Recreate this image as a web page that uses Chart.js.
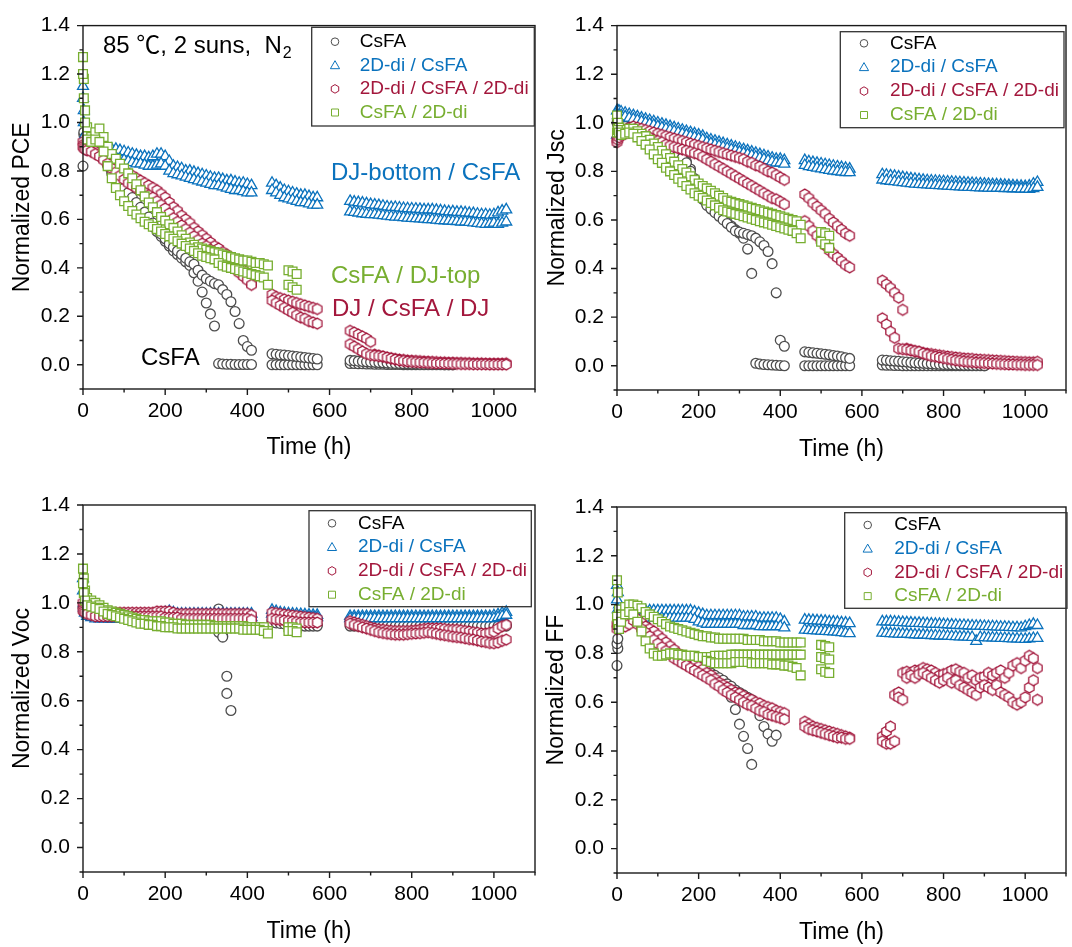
<!DOCTYPE html>
<html>
<head>
<meta charset="utf-8">
<script src="https://cdn.jsdelivr.net/npm/chart.js@4.4.1/dist/chart.umd.min.js"></script>
<style>
  html, body { margin: 0; padding: 0; background: #fff; overflow: hidden; }
  body { width: 1072px; height: 947px; position: relative; }
  canvas { position: absolute; }
</style>
</head>
<body>
<canvas id="pce"></canvas>
<canvas id="jsc"></canvas>
<canvas id="voc"></canvas>
<canvas id="ff"></canvas>
<script>
const _ = null;

// measurement times (h) of the three ageing runs
const T1 = [0, 2, 5, 10, 20, 30, 40, 50, 60, 70, 80, 90, 100, 110, 120, 130, 140, 150, 160, 170,
  180, 190, 200, 210, 220, 230, 240, 250, 260, 270, 280, 290, 300, 310, 320, 330, 340, 350, 360, 370,
  380, 390, 400, 410, 420, 430, 440, 450];
const T2 = [460, 470, 480, 490, 500, 510, 520, 530, 540, 550, 560, 570];
const T3 = [650, 660, 670, 680, 690, 700, 710, 720, 730, 740, 750, 760, 770, 780, 790, 800, 810, 820, 830, 840,
  850, 860, 870, 880, 890, 900, 910, 920, 930, 940, 950, 960, 970, 980, 990, 1000, 1010, 1020, 1030];

const SERIES_LABELS = ['CsFA', '2D-di / CsFA', '2D-di / CsFA / 2D-di', 'CsFA / 2D-di'];
const X_LABELS = ['0', '200', '400', '600', '800', '1000'];
const Y_LABELS = ['0.0', '0.2', '0.4', '0.6', '0.8', '1.0', '1.2', '1.4'];

// ---- normalized PCE (two devices per stack, each [run1, run2, run3]) ----
const PCE_GRAY_A = [
  [.82, .95, .93, .92, .91, .90, .88, .85, .82, .79,
   .76, .74, .72, .70, .68, .66, .64, .62, .60, .57,
   .55, .53, .51, .49, .47, .455, .44, .425, .41, .38,
   .345, .30, .255, .21, .16, .005, .003, .002, .002, .001,
   .001, .001, .001, .001],
  [0, 0, 0, 0, 0, 0, 0, 0, 0, 0, 0, 0],
  [.005, .005, .004, .004, .003, .003, .002, .002, .002, .001,
   .001, .001, .001, 0, 0, 0, 0, 0, 0, 0,
   0, 0, 0, 0, 0, 0]
];
const PCE_GRAY_B = [
  [_, .96, .94, .93, .92, .91, .89, .86, .83, .80,
   .775, .75, .73, .71, .69, .67, .65, .63, .61, .585,
   .56, .54, .52, .50, .485, .47, .455, .44, .425, .415,
   .39, .37, .355, .345, .335, .33, .31, .29, .26, .22,
   .17, .10, .075, .06],
  [.045, .043, .041, .04, .038, .036, .034, .032, .03, .028, .026, .024],
  [.018, .017, .015, .014, .012, .011, .01, .009, .008, .007,
   .006, .005, .005, .004, .004, .003, .003, .002, .002, .002,
   .001, .001, .001, 0, 0, 0]
];
const PCE_BLUE_A = [
  [1.15, 1.05, .95, .91, .90, .90, .90, .90, .895, .89,
   .89, .885, .88, .875, .87, .865, .86, .86, .855, .86,
   .87, .87, .86, .84, .82, .815, .81, .80, .80, .795,
   .79, .785, .78, .775, .77, .77, .765, .76, .76, .755,
   .75, .75, .745, .74],
  [.75, .74, .73, .72, .715, .71, .705, .70, .70, .695, .69, .69],
  [.675, .672, .67, .668, .665, .662, .66, .658, .655, .652,
   .65, .65, .648, .646, .645, .644, .643, .642, .64, .64,
   .64, .638, .636, .634, .632, .632, .63, .63, .628, .626,
   .625, .622, .62, .62, .618, .62, .628, .635, .64]
];
const PCE_BLUE_B = [
  [1.10, 1.0, .92, .89, .88, .88, .875, .87, .865, .86,
   .855, .85, .845, .84, .835, .83, .83, .825, .82, .82,
   .825, .83, .82, .80, .79, .785, .78, .775, .77, .765,
   .76, .755, .75, .745, .74, .74, .735, .73, .725, .72,
   .72, .715, .71, .71],
  [.72, .71, .70, .69, .685, .68, .675, .67, .67, .665, .66, .66],
  [.632, .63, .627, .624, .622, .62, .62, .618, .616, .614,
   .612, .61, .61, .608, .606, .605, .604, .603, .602, .60,
   .60, .598, .596, .595, .594, .593, .592, .59, .59, .588,
   .586, .584, .582, .58, .582, .585, .58, .585, .59]
];
const PCE_RED_A = [
  [.92, .91, .90, .90, .89, .88, .87, .86, .845, .83,
   .815, .805, .80, .79, .78, .77, .76, .75, .74, .73,
   .72, .705, .69, .67, .65, .635, .615, .60, .585, .565,
   .55, .535, .52, .505, .49, .48, .465, .455, .44, .425,
   .41, .39, .37, .335],
  [.29, .28, .275, .27, .265, .26, .255, .25, .245, .24, .235, .23],
  [.14, .133, .125, .117, .108, .095, .042, .038, .034, .03,
   .027, .024, .022, .02, .018, .017, .016, .015, .014, .013,
   .012, .011, .01, .01, .009, .009, .008, .008, .007, .007,
   .006, .006, .006, .005, .005, .005, .005, .005, .006]
];
const PCE_RED_B = [
  [.90, .895, .89, .885, .88, .87, .86, .845, .83, .81,
   .795, .78, .765, .75, .74, .73, .72, .71, .70, .69,
   .675, .66, .645, .625, .605, .59, .575, .56, .545, .53,
   .515, .50, .49, .475, .46, .45, .435, .42, .41, .395,
   .38, .365, .35, .33],
  [.265, .255, .245, .235, .225, .215, .205, .195, .19, .18, .175, .17],
  [.085, .075, .065, .055, .045, .04, .038, .036, .034, .03,
   .026, .022, .018, .016, .014, .012, .011, .01, .009, .008,
   .007, .006, .006, .005, .005, .004, .004, .003, .003, .003,
   .002, .002, .002, .002, .001, .001, .001, .001, .001]
];
const PCE_GREEN_A = [
  [1.27, 1.18, 1.05, .98, .94, .96, .975, .94, .90, .87,
   .85, .83, .81, .79, .77, .745, .72, .695, .67, .65,
   .63, .61, .595, .58, .565, .55, .535, .52, .505, .495,
   .485, .48, .475, .47, .465, .46, .455, .45, .445, .44,
   .435, .43, .43, .425, .42, .42, .415, .41],
  [_, _, _, _, .39, .385, .375],
  []
];
const PCE_GREEN_B = [
  [1.20, 1.10, 1.0, .93, .92, .93, .92, .88, .82, .77,
   .73, .70, .675, .655, .635, .62, .605, .59, .58, .57,
   .56, .55, .54, .53, .52, .51, .50, .49, .48, .47,
   .46, .45, .445, .44, .435, .42, .41, .405, .40, .395,
   .39, .385, .38, .375, .37, .365, .36, .33],
  [_, _, _, _, .33, .32, .31],
  []
];

// ---- normalized Jsc ----
const JSC_GRAY_A = [
  [1.0, 1.0, 1.0, 1.0, .99, .985, .98, .97, .965, .955,
   .945, .94, .93, .92, .91, .90, .89, .875, .86, .84,
   .81, .77, .73, .69, .665, .65, .635, .62, .605, .59,
   .575, .56, .545, .525, .48, .38, .01, .007, .005, .004,
   .003, .002, .001, 0],
  [0, 0, 0, 0, 0, 0, 0, 0, 0, 0, 0, 0],
  [.003, .002, .002, .001, .001, 0, 0, 0, 0, 0,
   0, 0, 0, 0, 0, 0, 0, 0, 0, 0,
   0, 0, 0, 0, 0, 0]
];
const JSC_GRAY_B = [
  [_, .99, .99, .99, .985, .98, .975, .965, .96, .95,
   .94, .935, .925, .915, .905, .895, .885, .87, .855, .835,
   .80, .76, .72, .685, .66, .645, .63, .615, .60, .585,
   .57, .555, .55, .545, .54, .535, .525, .51, .495, .47,
   .42, .30, .105, .08],
  [.057, .055, .053, .051, .049, .047, .045, .042, .04, .037, .033, .03],
  [.023, .022, .02, .019, .018, .016, .015, .013, .012, .011,
   .01, .009, .008, .007, .006, .005, .005, .004, .003, .003,
   .002, .002, .001, .001, .001, 0]
];
const JSC_BLUE_A = [
  [1.05, 1.05, 1.048, 1.045, 1.04, 1.035, 1.03, 1.025, 1.02, 1.015,
   1.01, 1.005, 1.0, .995, .99, .985, .98, .975, .97, .965,
   .96, .955, .95, .945, .935, .93, .925, .92, .915, .91,
   .905, .90, .895, .89, .885, .88, .875, .87, .865, .86,
   .855, .85, .85, .845],
  [.845, .84, .837, .834, .831, .828, .825, .822, .819, .816, .813, .81],
  [.787, .785, .782, .78, .777, .775, .772, .77, .768, .766,
   .764, .762, .761, .76, .759, .758, .757, .756, .755, .754,
   .753, .752, .751, .75, .749, .748, .747, .746, .745, .744,
   .743, .742, .741, .74, .739, .738, .74, .748, .755]
];
const JSC_BLUE_B = [
  [.95, 1.03, 1.03, 1.03, 1.025, 1.02, 1.015, 1.01, 1.005, 1.0,
   .995, .99, .985, .98, .975, .97, .965, .96, .955, .95,
   .945, .94, .935, .93, .92, .915, .91, .905, .90, .895,
   .89, .885, .88, .875, .87, .865, .86, .855, .85, .845,
   .84, .835, .835, .83],
  [.825, .82, .817, .814, .811, .808, .805, .802, .80, .798, .796, .795],
  [.765, .762, .76, .758, .756, .754, .752, .75, .748, .747,
   .746, .745, .744, .743, .742, .741, .74, .739, .738, .737,
   .736, .735, .735, .734, .733, .733, .732, .732, .731, .731,
   .73, .73, .729, .729, .728, .728, .727, .73, .735]
];
const JSC_RED_A = [
  [.93, .94, .95, .96, .97, .98, .985, .98, .975, .97,
   .965, .96, .955, .95, .945, .94, .935, .93, .925, .92,
   .915, .91, .905, .90, .895, .89, .885, .88, .875, .87,
   .865, .86, .855, .85, .84, .835, .825, .82, .81, .80,
   .795, .785, .775, .765],
  [.705, .69, .67, .655, .64, .625, .605, .59, .575, .56, .545, .535],
  [.35, .335, .32, .30, .28, .23, .07, .065, .06, .057,
   .053, .05, .048, .045, .043, .04, .038, .036, .034, .032,
   .03, .029, .028, .026, .025, .024, .023, .022, .021, .02,
   .019, .018, .017, .016, .015, .015, .014, .014, .016]
];
const JSC_RED_B = [
  [.92, .93, .94, .95, .955, .96, .96, .955, .95, .945,
   .94, .93, .925, .92, .91, .905, .90, .895, .89, .885,
   .88, .875, .87, .86, .85, .84, .83, .82, .81, .80,
   .79, .78, .77, .76, .75, .74, .73, .72, .71, .70,
   .69, .685, .675, .665],
  [.595, .575, .555, .535, .515, .495, .475, .46, .445, .43, .415, .405],
  [.195, .17, .14, .115, .07, .068, .066, .063, .06, .057,
   .05, .045, .04, .037, .034, .031, .028, .025, .022, .02,
   .018, .016, .015, .013, .012, .011, .01, .009, .008, .007,
   .006, .005, .005, .004, .004, .003, .003, .003, .003]
];
const JSC_GREEN_A = [
  [1.03, 1.0, .98, .97, .97, .975, .975, .965, .955, .945,
   .93, .915, .90, .885, .87, .855, .84, .825, .81, .795,
   .78, .765, .75, .74, .73, .72, .71, .70, .69, .68,
   .675, .67, .665, .66, .655, .65, .645, .64, .635, .63,
   .625, .62, .615, .61, .605, .60, .595, .58],
  [_, _, _, _, .55, .545, .535],
  []
];
const JSC_GREEN_B = [
  [.96, .97, .96, .95, .955, .96, .955, .94, .925, .91,
   .89, .87, .85, .835, .815, .80, .785, .77, .755, .74,
   .725, .71, .70, .69, .68, .67, .66, .65, .64, .635,
   .63, .625, .62, .615, .61, .605, .60, .595, .59, .585,
   .58, .575, .57, .565, .56, .555, .545, .525],
  [_, _, _, _, .51, .50, .485],
  []
];

// ---- normalized Voc ----
const VOC_GRAY_A = [
  [.98, .98, .975, .97, .965, .96, .955, .955, .95, .95,
   .95, .95, .95, .95, .95, .95, .95, .95, .95, .95,
   .95, .95, .95, .95, .95, .95, .95, .95, .95, .95,
   .95, .95, .95, .95, .95, .975, .865, .70, .56],
  [.93, .928, .926, .924, .922, .92, .918, .916, .914, .912, .91, .91],
  [.915, .915, .915, .914, .913, .912, .912, .911, .911, .91,
   .91, .91, .91, .91, .91, .91, .91, .91, .91, .91,
   .91, .91, .91, .91, .91, .91, .91, .91, .91, .91,
   .91, .91, .91, .91, .91, .91, .91, .91, .91]
];
const VOC_GRAY_B = [
  [_, .97, .965, .96, .955, .95, .945, .945, .94, .94,
   .94, .94, .94, .94, .94, .94, .94, .94, .94, .94,
   .94, .94, .94, .94, .94, .94, .94, .94, .94, .94,
   .94, .94, .935, .935, .935, .88, .86, .63],
  [.92, .918, .916, .914, .912, .91, .908, .906, .905, .905, .905, .905],
  [.905, .905, .905, .905, .905, .905, .905, .905, .905, .905,
   .905, .905, .905, .905, .905, .905, .905, .905, .905, .905,
   .905, .905, .905, .905, .905, .905, .905, .905, .905, .905,
   .905, .905, .905, .905, .905, .905, .905, .905, .905]
];
const VOC_BLUE_A = [
  [1.10, 1.0, .96, .955, .95, .945, .945, .945, .945, .945,
   .945, .945, .945, .945, .945, .945, .945, .945, .945, .945,
   .95, .955, .96, .965, .96, .955, .955, .955, .955, .955,
   .955, .955, .955, .955, .955, .955, .955, .955, .955, .955,
   .955, .955, .955, .955],
  [.97, .965, .96, .958, .956, .955, .954, .953, .952, .951, .95, .95],
  [.945, .945, .945, .945, .945, .945, .945, .945, .945, .945,
   .945, .945, .945, .945, .945, .945, .945, .945, .945, .945,
   .945, .945, .945, .945, .945, .945, .945, .945, .945, .945,
   .945, .945, .945, .945, .945, .948, .952, .958, .962]
];
const VOC_BLUE_B = [
  [1.05, .98, .96, .945, .94, .935, .935, .935, .935, .935,
   .935, .935, .935, .935, .935, .935, .935, .935, .935, .935,
   .935, .935, .94, .94, .94, .94, .94, .94, .94, .94,
   .94, .94, .94, .94, .94, .94, .94, .94, .94, .94,
   .94, .94, .94, .94],
  [.955, .95, .945, .943, .941, .94, .94, .94, .94, .94, .94, .94],
  [.936, .936, .936, .936, .936, .936, .936, .936, .936, .936,
   .936, .936, .936, .936, .936, .936, .936, .936, .936, .936,
   .936, .936, .936, .936, .936, .936, .936, .936, .936, .936,
   .936, .936, .936, .936, .936, .936, .94, .945, .95]
];
const VOC_RED_A = [
  [1.0, .99, .98, .975, .97, .965, .96, .96, .96, .96,
   .96, .96, .96, .96, .96, .96, .96, .96, .96, .96,
   .965, .965, .965, .965, .96, .955, .955, .955, .955, .955,
   .955, .955, .955, .955, .955, .955, .955, .955, .955, .955,
   .955, .955, .955, .95],
  [.96, .958, .955, .952, .95, .948, .946, .944, .942, .94, .938, .935],
  [.925, .92, .915, .91, .905, .90, .895, .892, .89, .888,
   .886, .885, .885, .885, .885, .886, .888, .89, .893, .895,
   .895, .895, .895, .893, .89, .89, .89, .888, .885, .883,
   .88, .878, .875, .875, .878, .882, .895, .905, .91]
];
const VOC_RED_B = [
  [.97, .965, .96, .955, .95, .945, .945, .945, .945, .945,
   .945, .945, .945, .945, .945, .945, .945, .945, .945, .945,
   .945, .945, .94, .94, .94, .94, .935, .935, .935, .935,
   .935, .935, .935, .935, .935, .935, .935, .935, .935, .935,
   .935, .935, .935, .93],
  [.935, .932, .93, .928, .926, .924, .922, .92, .92, .92, .92, .92],
  [.915, .91, .905, .90, .895, .89, .885, .88, .877, .874,
   .872, .87, .87, .87, .872, .874, .875, .876, .878, .88,
   .877, .874, .87, .868, .865, .862, .86, .858, .855, .852,
   .85, .846, .842, .84, .836, .835, .838, .845, .85]
];
const VOC_GREEN_A = [
  [1.14, 1.10, 1.05, 1.02, 1.01, 1.0, .99, .98, .97, .965,
   .96, .955, .95, .945, .94, .935, .93, .93, .925, .925,
   .925, .925, .92, .92, .915, .915, .915, .91, .91, .91,
   .91, .91, .91, .91, .905, .905, .905, .905, .905, .905,
   .905, .905, .90, .90, .90, .90, .90, .885],
  [_, _, _, _, .90, .90, .895],
  []
];
const VOC_GREEN_B = [
  [1.08, 1.04, 1.01, .99, .985, .98, .975, .965, .955, .95,
   .945, .94, .935, .93, .925, .92, .915, .915, .91, .91,
   .905, .905, .90, .90, .90, .895, .895, .895, .895, .895,
   .895, .895, .895, .895, .895, .895, .895, .895, .895, .895,
   .895, .89, .89, .89, .89, .89, .885, .875],
  [_, _, _, _, .885, .885, .88],
  []
];

// ---- normalized FF ----
const FF_GRAY_A = [
  [.75, .82, .90, .95, .98, .99, .97, .95, .93, .91,
   .89, .87, .855, .84, .83, .815, .80, .79, .78, .77,
   .76, .75, .74, .735, .725, .715, .705, .695, .685, .66,
   .62, .57, .51, .46, .41, .345],
  [],
  []
];
const FF_GRAY_B = [
  [.84, .86, .92, .96, .985, .995, .975, .955, .935, .915,
   .895, .875, .86, .845, .835, .82, .805, .795, .785, .775,
   .765, .755, .745, .74, .73, .72, .71, .70, .69, .675,
   .665, .65, .64, .63, .62, .61, .595, .545, .50, .47,
   .44, .465],
  [],
  []
];
const FF_BLUE_A = [
  [1.08, 1.05, 1.0, .97, .965, .97, .975, .975, .975, .975,
   .975, .975, .975, .975, .975, .975, .975, .975, .975, .975,
   .975, .97, .965, .96, .955, .955, .955, .955, .955, .955,
   .955, .955, .955, .95, .95, .95, .95, .945, .945, .945,
   .945, .945, .94, .93],
  [.937, .936, .935, .934, .933, .932, .93, .929, .928, .926, .925, .923],
  [.93, .93, .93, .929, .928, .927, .926, .925, .924, .924,
   .923, .922, .921, .92, .92, .919, .918, .917, .916, .915,
   .915, .914, .913, .912, .912, .911, .91, .91, .909, .908,
   .908, .907, .906, .906, .905, .91, .915, .92, .915]
];
const FF_BLUE_B = [
  [1.02, .98, .95, .94, .94, .945, .945, .945, .945, .945,
   .945, .945, .945, .945, .945, .945, .945, .945, .945, .945,
   .945, .94, .93, .925, .92, .92, .92, .92, .92, .92,
   .92, .92, .92, .915, .915, .915, .915, .91, .91, .91,
   .91, .91, .91, .905],
  [.896, .895, .894, .893, .892, .891, .89, .889, .888, .886, .884, .882],
  [.884, .883, .882, .881, .88, .88, .879, .878, .877, .876,
   .876, .875, .874, .873, .872, .872, .871, .87, .869, .868,
   .868, .867, .866, .85, .866, .865, .864, .864, .863, .862,
   .862, .861, .86, .86, .859, .858, .86, .862, .862]
];
const FF_RED_A = [
  [.92, .93, .93, .93, .92, .935, .95, .94, .925, .91,
   .90, .89, .875, .86, .845, .83, .815, .80, .79, .775,
   .765, .755, .745, .735, .72, .71, .695, .68, .67, .66,
   .65, .64, .635, .625, .615, .61, .60, .595, .585, .58,
   .575, .565, .56, .555],
  [.52, .51, .50, .495, .49, .485, .48, .475, .47, .465, .46, .455],
  [.46, .48, .50, .63, .64, .72, .725, .72, .73, .73,
   .74, .735, .73, .72, .71, .715, .72, .73, .735, .725,
   .72, .70, .71, .69, .70, .705, .72, .71, .72, .73,
   .70, .72, .75, .76, .74, .77, .79, .78, .74]
];
const FF_RED_B = [
  [.90, .91, .91, .915, .91, .92, .935, .92, .90, .885,
   .87, .855, .84, .825, .81, .795, .78, .77, .76, .75,
   .74, .73, .72, .71, .70, .69, .675, .665, .65, .64,
   .63, .62, .61, .60, .59, .585, .575, .565, .56, .55,
   .545, .54, .535, .53],
  [.50, .49, .485, .48, .475, .47, .465, .46, .455, .455, .45, .45],
  [.44, .43, .43, .44, .62, .61, .70, .71, .70, .715,
   .72, .71, .70, .69, .68, .69, .70, .68, .69, .67,
   .66, .65, .64, .63, .66, .67, .66, .65, .67, .64,
   .63, .62, .60, .59, .60, .62, .66, .69, .61]
];
const FF_GREEN_A = [
  [1.10, 1.05, .98, .96, .99, 1.0, 1.0, .995, .985, .97,
   .96, .95, .94, .93, .92, .91, .905, .90, .895, .89,
   .885, .88, .875, .87, .87, .865, .865, .86, .86, .86,
   .86, .86, .86, .86, .855, .855, .855, .855, .85, .85,
   .85, .85, .845, .845, .845, .845, .845, .845],
  [_, _, _, _, .835, .83, .825],
  []
];
const FF_GREEN_B = [
  [.95, .92, .90, .93, .96, .97, .96, .93, .89, .85,
   .82, .80, .79, .79, .795, .80, .80, .795, .795, .79,
   .79, .79, .785, .785, .785, .785, .79, .79, .79, .79,
   .795, .795, .795, .795, .795, .795, .795, .795, .795, .795,
   .795, .795, .795, .795, .795, .795, .795, .795],
  [_, _, _, _, .785, .78, .775],
  []
];
const FF_GREEN_C = [
  [_, _, _, _, _, _, _, _, _, _,
   _, _, _, _, _, _, _, _, _, _,
   _, _, _, _, .77, .765, .76, .76, .76, .76,
   .76, .765, .765, .765, .765, .76, .76, .76, .76, .76,
   .755, .755, .755, .75, .75, .745, .74, .71],
  [_, _, _, _, .735, .725, .72],
  []
];

const GRAY = '#4d4d4d', BLUE = '#0a72bd', RED = '#a3173c', GREEN = '#77ae30';
const COLORS = [GRAY, BLUE, RED, GREEN];
const FONT = 'Arial, "Liberation Sans", sans-serif';

Chart.defaults.font.family = FONT;
Chart.defaults.color = '#000';

function hexPath(g, x, y, r) {
  g.beginPath();
  for (let k = 0; k < 6; k++) {
    const a = Math.PI / 3 * k - Math.PI / 2;
    const px = x + r * Math.cos(a), py = y + r * Math.sin(a);
    if (k) g.lineTo(px, py); else g.moveTo(px, py);
  }
  g.closePath();
}

// chart.js has no hexagon style, so hand it a small canvas
function hexImage(color, r) {
  const c = document.createElement('canvas');
  const s = Math.ceil(r * 2 + 4);
  c.width = s; c.height = s;
  const g = c.getContext('2d');
  hexPath(g, s / 2, s / 2, r);
  g.fillStyle = '#fff'; g.fill();
  g.strokeStyle = color; g.lineWidth = 1.3; g.stroke();
  return c;
}

const STYLES = [
  { pointStyle: 'circle', radius: 4.9 },
  { pointStyle: 'triangle', radius: 6.3 },
  { pointStyle: hexImage(RED, 5.4), radius: 5.4 },
  { pointStyle: 'rect', radius: 6.2 },
];

function toPoints(track) {
  const out = [];
  [T1, T2, T3].forEach((times, s) => {
    (track[s] || []).forEach((v, i) => {
      if (v !== null && v !== undefined) out.push({ x: times[i], y: v });
    });
  });
  return out;
}

function makeDatasets(groups) {
  return groups.map((tracks, k) => ({
    label: SERIES_LABELS[k],
    data: tracks.flatMap(toPoints),
    pointStyle: STYLES[k].pointStyle,
    pointRadius: STYLES[k].radius,
    borderColor: COLORS[k],
    backgroundColor: '#fff',
    pointBorderWidth: 1.3,
    showLine: false,
    clip: false,
    order: 4 - k,
  }));
}

function legendMarker(ctx, k, x, y) {
  ctx.save();
  ctx.strokeStyle = COLORS[k];
  ctx.fillStyle = '#fff';
  ctx.lineWidth = 1;
  ctx.beginPath();
  if (k === 0) ctx.arc(x, y, 3.8, 0, Math.PI * 2);
  else if (k === 1) { ctx.moveTo(x, y - 4.6); ctx.lineTo(x + 4.6, y + 3.4); ctx.lineTo(x - 4.6, y + 3.4); ctx.closePath(); }
  else if (k === 2) hexPath(ctx, x, y, 4.3);
  else ctx.rect(x - 3.5, y - 3.5, 7, 7);
  ctx.fill(); ctx.stroke();
  ctx.restore();
}

const decor = {
  id: 'decor',
  afterDatasetsDraw(chart, args, opts) {
    const { ctx, chartArea: a, scales: { x, y } } = chart;
    ctx.save();
    ctx.strokeStyle = '#1a1a1a';
    ctx.lineWidth = 1.4;
    ctx.strokeRect(a.left, a.top, a.right - a.left, a.bottom - a.top);
    ctx.beginPath();
    x.ticks.forEach(t => {
      const px = x.getPixelForValue(t.value);
      ctx.moveTo(px, a.bottom); ctx.lineTo(px, a.bottom + (t.label ? 6 : 3.5));
    });
    y.ticks.forEach(t => {
      const py = y.getPixelForValue(t.value);
      ctx.moveTo(a.left, py); ctx.lineTo(a.left - (t.label ? 6 : 3.5), py);
    });
    ctx.stroke();
    ctx.restore();
  },
  afterDraw(chart, args, opts) {
    const ctx = chart.ctx;
    const L = opts.legend;
    ctx.save();
    ctx.strokeStyle = '#333';
    ctx.lineWidth = 1.3;
    ctx.strokeRect(L.x, L.y, L.w, L.h);
    ctx.font = '19px ' + FONT;
    ctx.textBaseline = 'middle';
    chart.data.datasets.forEach((ds, k) => {
      const yy = L.y + L.dy0 + k * L.step;
      legendMarker(ctx, k, L.x + L.mdx, yy);
      ctx.fillStyle = k === 0 ? '#000' : COLORS[k];
      ctx.fillText(ds.label, L.x + L.tdx, yy);
    });
    ctx.textBaseline = 'alphabetic';
    (opts.notes || []).forEach(n => {
      ctx.font = '24px ' + FONT + ', "Noto Sans CJK SC"';
      ctx.fillStyle = n.color;
      ctx.fillText(n.text, n.x, n.y);
      if (n.sub) {
        const w = ctx.measureText(n.text).width;
        ctx.font = '16px ' + FONT;
        ctx.fillText(n.sub, n.x + w + 1, n.y + 5);
      }
    });
    ctx.restore();
  }
};

const PANELS = [
  { id: 'pce', left: 0, top: 0, w: 545, h: 470, padTop: 23, padRight: 7, yw: 83, xh: 81,
    yTitlePad: 9, xTitlePad: 9, title: 'Normalized PCE',
    groups: [[PCE_GRAY_A, PCE_GRAY_B], [PCE_BLUE_A, PCE_BLUE_B], [PCE_RED_A, PCE_RED_B], [PCE_GREEN_A, PCE_GREEN_B]],
    legend: { x: 311.7, y: 27.3, w: 222.6, h: 98.7, mdx: 23.3, tdx: 48, dy0: 14.4, step: 23.6 },
    notes: [
      { text: '85 \u2103, 2 suns,  N', sub: '2', x: 103, y: 53, color: '#000' },
      { text: 'DJ-bottom / CsFA', x: 331, y: 180, color: BLUE },
      { text: 'CsFA / DJ-top', x: 331, y: 283, color: GREEN },
      { text: 'DJ / CsFA / DJ', x: 332, y: 316, color: RED },
      { text: 'CsFA', x: 141, y: 365, color: '#000' },
    ] },
  { id: 'jsc', left: 540, top: 0, w: 536, h: 470, padTop: 24, padRight: 2, yw: 77, xh: 80,
    yTitlePad: 4, xTitlePad: 7, title: 'Normalized Jsc',
    groups: [[JSC_GRAY_A, JSC_GRAY_B], [JSC_BLUE_A, JSC_BLUE_B], [JSC_RED_A, JSC_RED_B], [JSC_GREEN_A, JSC_GREEN_B]],
    legend: { x: 300.3, y: 31.7, w: 223.7, h: 96, mdx: 23.7, tdx: 49.7, dy0: 11.6, step: 23.9 } },
  { id: 'voc', left: 0, top: 470, w: 545, h: 477, padTop: 35, padRight: 7, yw: 83, xh: 75,
    yTitlePad: 9, xTitlePad: 2, title: 'Normalized Voc',
    groups: [[VOC_GRAY_A, VOC_GRAY_B], [VOC_BLUE_A, VOC_BLUE_B], [VOC_RED_A, VOC_RED_B], [VOC_GREEN_A, VOC_GREEN_B]],
    legend: { x: 309, y: 40.7, w: 222.3, h: 96, mdx: 23, tdx: 49, dy0: 12.6, step: 23.8 } },
  { id: 'ff', left: 540, top: 470, w: 536, h: 477, padTop: 37, padRight: 3, yw: 77, xh: 74,
    yTitlePad: 3, xTitlePad: 1, title: 'Normalized FF',
    groups: [[FF_GRAY_A, FF_GRAY_B], [FF_BLUE_A, FF_BLUE_B], [FF_RED_A, FF_RED_B], [FF_GREEN_A, FF_GREEN_B, FF_GREEN_C]],
    legend: { x: 304.7, y: 42.7, w: 222.3, h: 95.6, mdx: 23, tdx: 49.6, dy0: 12.3, step: 23.7 } },
];

PANELS.forEach(P => {
  const cv = document.getElementById(P.id);
  cv.width = P.w; cv.height = P.h;
  cv.style.left = P.left + 'px'; cv.style.top = P.top + 'px';
  cv.style.width = P.w + 'px'; cv.style.height = P.h + 'px';

  new Chart(cv, {
    type: 'scatter',
    data: { datasets: makeDatasets(P.groups) },
    options: {
      responsive: false,
      animation: false,
      devicePixelRatio: 1,
      events: [],
      layout: { autoPadding: false, padding: { top: P.padTop, right: P.padRight, left: 0, bottom: 0 } },
      plugins: {
        legend: { display: false },
        tooltip: { enabled: false },
        decor: { legend: P.legend, notes: P.notes || [] },
      },
      scales: {
        x: {
          type: 'linear', min: 0, max: 1100,
          afterFit: s => { s.height = P.xh; },
          grid: { display: false, drawTicks: false },
          border: { display: false },
          ticks: {
            stepSize: 100, autoSkip: false, maxRotation: 0, padding: 10,
            font: { size: 21 }, color: '#000',
            callback: v => X_LABELS.includes(String(v)) ? String(v) : '',
          },
          title: { display: true, text: 'Time (h)', font: { size: 23 }, color: '#000',
                   padding: { top: 0, bottom: P.xTitlePad } },
        },
        y: {
          type: 'linear', min: -0.1, max: 1.4,
          afterFit: s => { s.width = P.yw; },
          grid: { display: false, drawTicks: false },
          border: { display: false },
          ticks: {
            stepSize: 0.1, autoSkip: false, padding: 13,
            font: { size: 21 }, color: '#000',
            callback: v => {
              const k = Math.round(v * 10);
              const s = (k / 10).toFixed(1);
              return (k % 2 === 0 && Y_LABELS.includes(s)) ? s : '';
            },
          },
          title: { display: true, text: P.title, font: { size: 23 }, color: '#000',
                   padding: { top: P.yTitlePad, bottom: 0 } },
        },
      },
    },
    plugins: [decor],
  });
});
</script>
</body>
</html>
